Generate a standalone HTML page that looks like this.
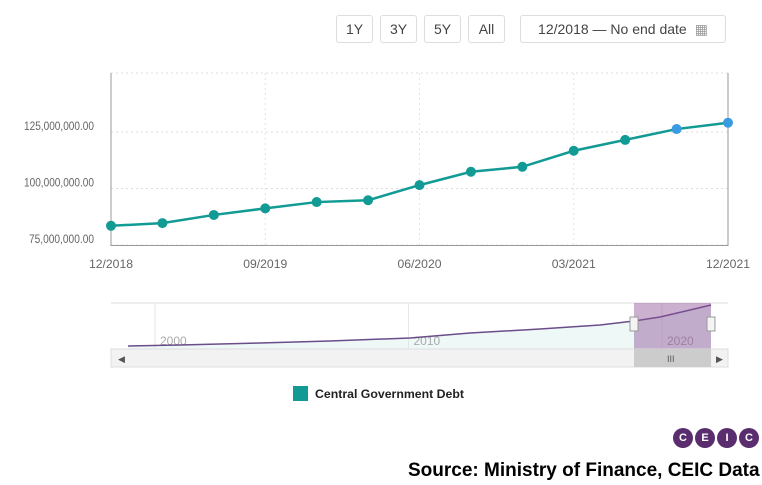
<!DOCTYPE html>
<html><head><meta charset="utf-8"><style>
body{margin:0;width:762px;height:485px;background:#fff;font-family:"Liberation Sans",sans-serif;position:relative;overflow:hidden}
.btn{position:absolute;top:15px;height:28px;border:1px solid #ddd;border-radius:3px;box-sizing:border-box;font-size:14px;color:#444;display:flex;align-items:center;justify-content:center;background:#fff}
</style></head><body>
<div class="btn" style="left:336px;width:37px">1Y</div>
<div class="btn" style="left:380px;width:37px">3Y</div>
<div class="btn" style="left:424px;width:37px">5Y</div>
<div class="btn" style="left:468px;width:37px">All</div>
<div class="btn" style="left:520px;width:206px">12/2018 — No end date <span style="margin-left:8px;color:#999">▦</span></div>
<svg id="c" width="762" height="485" style="position:absolute;left:0;top:0"></svg>
<div style="position:absolute;left:293px;top:386px;display:flex;align-items:center;font-size:12.3px;font-weight:bold;color:#222"><span style="width:15px;height:15px;background:#129a94;display:inline-block;margin-right:7px"></span>Central Government Debt</div>
<div style="position:absolute;left:673px;top:428px;display:flex;gap:2px">
<span style="width:20px;height:20px;border-radius:50%;background:#5a2d6e;color:#fff;font-size:11px;font-weight:bold;display:flex;align-items:center;justify-content:center">C</span>
<span style="width:20px;height:20px;border-radius:50%;background:#5a2d6e;color:#fff;font-size:11px;font-weight:bold;display:flex;align-items:center;justify-content:center">E</span>
<span style="width:20px;height:20px;border-radius:50%;background:#5a2d6e;color:#fff;font-size:11px;font-weight:bold;display:flex;align-items:center;justify-content:center">I</span>
<span style="width:20px;height:20px;border-radius:50%;background:#5a2d6e;color:#fff;font-size:11px;font-weight:bold;display:flex;align-items:center;justify-content:center">C</span></div>
<div style="position:absolute;left:408px;top:460px;font-size:19px;font-weight:bold;color:#000;white-space:nowrap">Source: Ministry of Finance, CEIC Data</div>
<script>
const values=[83.5,84.7,88.3,91.2,94.0,94.8,101.5,107.4,109.6,116.7,121.5,126.3,129.1];
const yTicks=[75,100,125];
const yTickLabels=["75,000,000.00","100,000,000.00","125,000,000.00"];
const xTickIdx=[0,3,6,9,12];
const xTickLabels=["12/2018","09/2019","06/2020","03/2021","12/2021"];
const navYears=[2000,2010,2020];
const svg=document.getElementById('c');const NS='http://www.w3.org/2000/svg';
function mk(t,a,p){const e=document.createElementNS(NS,t);for(const k in a)e.setAttribute(k,a[k]);(p||svg).appendChild(e);return e;}
const x0=111,x1=728;
const X=i=>x0+(x1-x0)*i/(values.length-1);
const Y=v=>245-(v-75)*56.5/25;
for(let k=0;k<yTicks.length;k++){const y=Y(yTicks[k]);
 const g=mk('line',{x1:x0,x2:x1,y1:y,y2:y,stroke:'#ddd','stroke-dasharray':'2,3'});
 const t=mk('text',{x:94,y:y-2,'text-anchor':'end','font-size':12,fill:'#666',textLength:yTickLabels[k].length*5,lengthAdjust:'spacingAndGlyphs'});t.textContent=yTickLabels[k];}
mk('line',{x1:x0,x2:x1,y1:73,y2:73,stroke:'#ddd','stroke-dasharray':'2,3'});
for(let k=0;k<xTickIdx.length;k++){const x=X(xTickIdx[k]);
 mk('line',{x1:x,x2:x,y1:73,y2:245,stroke:'#e4e4e4','stroke-dasharray':'2,3'});
 const t=mk('text',{x:x,y:268,'text-anchor':'middle','font-size':12,fill:'#666',textLength:44,lengthAdjust:'spacingAndGlyphs'});t.textContent=xTickLabels[k];}
mk('line',{x1:x0,x2:x0,y1:73,y2:246,stroke:'#999'});
mk('line',{x1:x1,x2:x1,y1:73,y2:246,stroke:'#999'});
mk('line',{x1:x0,x2:x1,y1:245.5,y2:245.5,stroke:'#999'});
const ln=mk('polyline',{points:values.map((v,i)=>X(i)+','+Y(v)).join(' '),fill:'none',stroke:'#129a94','stroke-width':2.5});

values.forEach((v,i)=>{const c=mk('circle',{cx:X(i),cy:Y(v),r:5,fill:i>=11?'#3b9be0':'#129a94'});});
mk('line',{x1:111,x2:728,y1:303,y2:303,stroke:'#ddd'});
const nx=yr=>160+(yr-2000)*25.35;
mk('path',{d:'M128,346 L180,345 L260,343 L330,341 L410,338 L470,333 L540,329 L600,325 L634,321 L660,317 L690,310 L711,305 L711,349 L128,349Z',fill:'#eef8f7'});
navYears.forEach(yr=>{mk('line',{x1:nx(yr)-5,x2:nx(yr)-5,y1:303,y2:349,stroke:'#e6e6e6'});const t=mk('text',{x:nx(yr),y:345,'font-size':12,fill:'#aaa'});t.textContent=yr;});
mk('path',{d:'M128,346 L180,345 L260,343 L330,341 L410,338 L470,333 L540,329 L600,325 L634,321 L660,317 L690,310 L711,305',fill:'none',stroke:'#6b4d8a','stroke-width':1.5});
const sel=mk('rect',{x:634,y:303,width:77,height:46,fill:'rgba(140,80,150,0.45)'});
mk('rect',{x:630,y:317,width:8,height:14,fill:'#f4f4f4',stroke:'#999'});
mk('rect',{x:707,y:317,width:8,height:14,fill:'#f4f4f4',stroke:'#999'});
const sb=mk('rect',{x:111,y:349,width:617,height:18,fill:'#f2f2f2',stroke:'#ddd'});
mk('rect',{x:634,y:349,width:77,height:18,fill:'#ccc'});
mk('text',{x:118,y:362,'font-size':9,fill:'#555'}).textContent='◀';
mk('text',{x:716,y:362,'font-size':9,fill:'#555'}).textContent='▶';
mk('text',{x:667,y:362,'font-size':9,fill:'#555'}).textContent='III';
</script>
</body></html>
